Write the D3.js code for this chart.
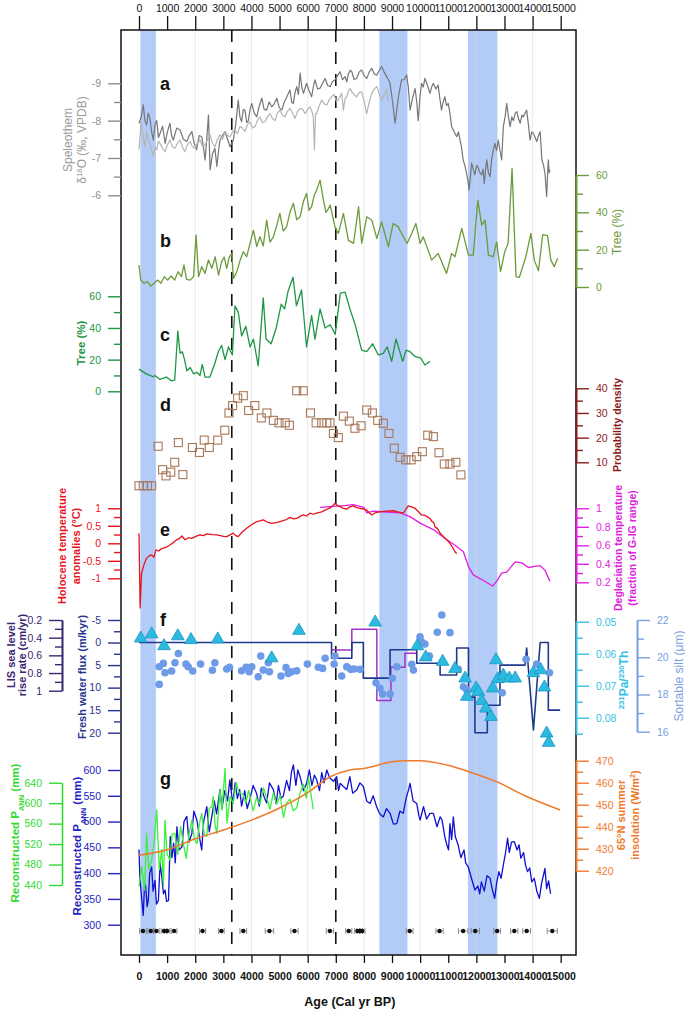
<!DOCTYPE html>
<html>
<head>
<meta charset="utf-8">
<title>Holocene multi-proxy records</title>
<script src="https://cdn.jsdelivr.net/npm/d3@7"></script>
<style>
body{margin:0;background:#fff;}
svg{display:block;font-family:"Liberation Sans",Arial,sans-serif;}
</style>
</head>
<body>
<script>
// ---- data (age in cal yr BP, value) ----
var ageTicks = d3.range(0, 15001, 1000);
var gridAges = [2000, 4000, 6000, 8000, 10000, 12000, 14000];
var bands = [[50, 600], [8550, 9550], [11700, 12750]];
var dashedAges = [3300, 7000];

// a: speleothem d18O
var speleoDark = [[0,-7.93],[80,-8.1],[153,-8.42],[210,-8.0],[270,-7.88],[330,-8.2],[390,-8.06],[450,-7.7],[510,-7.48],[570,-7.9],[630,-8.0],[690,-7.55],[750,-7.66],[840,-7.85],[930,-7.39],[1010,-7.7],[1100,-7.93],[1160,-7.6],[1220,-7.48],[1340,-7.8],[1460,-7.75],[1580,-7.5],[1700,-7.44],[1790,-7.6],[1880,-7.71],[1960,-7.4],[2050,-7.22],[2140,-7.6],[2230,-7.57],[2290,-7.3],[2350,-6.95],[2410,-7.5],[2470,-8.15],[2500,-7.4],[2530,-6.68],[2610,-7.1],[2700,-7.26],[2770,-6.77],[2830,-7.2],[2880,-7.48],[2970,-7.6],[3060,-7.71],[3150,-7.5],[3240,-7.3],[3355,-7.48],[3440,-7.9],[3530,-8.55],[3590,-8.1],[3650,-7.97],[3710,-8.3],[3770,-8.28],[3830,-7.95],[3890,-8.0],[3950,-8.3],[4010,-8.46],[4100,-8.2],[4190,-8.1],[4280,-8.4],[4370,-8.6],[4450,-8.3],[4540,-8.28],[4630,-8.5],[4720,-8.37],[4810,-8.45],[4900,-8.6],[4990,-8.35],[5080,-8.28],[5170,-8.5],[5260,-8.64],[5370,-8.82],[5430,-8.5],[5490,-8.46],[5550,-8.75],[5610,-8.91],[5670,-8.7],[5730,-9.27],[5790,-8.9],[5850,-8.73],[5900,-8.85],[5960,-9.0],[6050,-8.8],[6140,-8.64],[6200,-8.9],[6260,-9.09],[6350,-8.85],[6440,-8.87],[6530,-9.0],[6620,-9.13],[6710,-8.95],[6800,-8.91],[6880,-9.05],[6970,-9.09],[7060,-9.2],[7150,-9.31],[7240,-9.1],[7330,-9.18],[7390,-9.04],[7450,-9.25],[7510,-9.35],[7570,-9.31],[7650,-9.1],[7740,-9.13],[7830,-9.3],[7920,-9.36],[8010,-9.2],[8100,-9.13],[8190,-9.3],[8280,-9.4],[8370,-9.25],[8460,-9.22],[8550,-9.35],[8630,-9.45],[8720,-9.3],[8810,-9.18],[8870,-9.1],[8930,-9.0],[9020,-8.5],[9110,-7.93],[9170,-8.3],[9230,-8.64],[9290,-8.9],[9340,-9.09],[9430,-9.1],[9520,-9.22],[9580,-8.9],[9640,-8.28],[9730,-8.6],[9820,-8.86],[9880,-8.5],[9930,-8.0],[9990,-8.6],[10050,-9.0],[10110,-8.9],[10170,-9.13],[10260,-8.95],[10350,-8.73],[10410,-8.9],[10470,-9.0],[10560,-8.85],[10640,-8.95],[10700,-8.6],[10760,-8.28],[10820,-8.5],[10880,-8.64],[10940,-8.4],[11000,-8.46],[11060,-8.2],[11120,-7.84],[11210,-7.7],[11300,-7.57],[11360,-7.7],[11410,-7.52],[11470,-7.3],[11530,-6.95],[11590,-6.8],[11650,-6.59],[11700,-6.4],[11740,-6.14],[11790,-6.5],[11830,-6.86],[11890,-6.7],[11950,-6.55],[12010,-6.8],[12070,-6.73],[12130,-6.6],[12190,-6.55],[12240,-6.7],[12280,-6.32],[12330,-6.7],[12370,-6.95],[12430,-6.6],[12490,-6.5],[12540,-6.95],[12600,-7.2],[12660,-7.39],[12720,-7.2],[12780,-7.48],[12840,-7.2],[12900,-6.95],[12960,-7.84],[13020,-8.1],[13080,-8.46],[13140,-8.1],[13200,-7.84],[13260,-8.1],[13320,-8.0],[13380,-8.2],[13440,-8.24],[13500,-8.05],[13560,-7.93],[13620,-8.15],[13670,-8.1],[13730,-8.2],[13790,-8.28],[13850,-7.9],[13910,-7.48],[13970,-7.7],[14030,-7.66],[14090,-7.55],[14150,-7.44],[14210,-7.6],[14270,-7.7],[14330,-6.95],[14390,-6.8],[14440,-6.59],[14500,-5.97],[14530,-6.5],[14560,-6.95],[14590,-6.6],[14620,-6.68]];
var speleoLight = [[0,-7.22],[40,-7.6],[70,-7.97],[110,-7.7],[150,-7.57],[210,-7.3],[270,-7.7],[330,-7.5],[390,-7.39],[450,-7.2],[510,-7.04],[570,-7.3],[630,-7.22],[690,-7.45],[750,-7.39],[840,-7.25],[930,-7.17],[1010,-7.35],[1100,-7.48],[1190,-7.3],[1280,-7.26],[1370,-7.4],[1460,-7.48],[1540,-7.3],[1630,-7.17],[1720,-7.35],[1820,-7.44],[1900,-7.3],[1990,-7.26],[2080,-7.4],[2170,-7.48],[2260,-7.3],[2350,-7.35],[2440,-7.5],[2530,-7.62],[2610,-7.4],[2700,-7.3],[2790,-7.5],[2880,-7.62],[2970,-7.5],[3060,-7.71],[3150,-7.6],[3240,-7.57],[3330,-7.7],[3410,-7.75],[3500,-7.65],[3590,-7.84],[3680,-7.8],[3770,-7.71],[3860,-7.9],[3950,-7.97],[4040,-7.8],[4130,-7.84],[4210,-8.0],[4300,-8.1],[4390,-7.95],[4480,-7.97],[4570,-8.1],[4660,-8.19],[4750,-8.05],[4840,-8.0],[4920,-8.2],[5010,-8.28],[5100,-8.15],[5190,-8.1],[5280,-8.25],[5370,-8.33],[5460,-8.2],[5550,-8.06],[5640,-8.25],[5730,-8.33],[5820,-8.3],[5910,-8.19],[6000,-8.3],[6080,-8.37],[6150,-8.25],[6200,-8.1],[6240,-7.22],[6280,-8.19],[6320,-8.19],[6410,-8.4],[6500,-8.55],[6590,-8.45],[6680,-8.42],[6760,-8.55],[6850,-8.64],[6940,-8.7],[7030,-8.5],[7120,-8.6],[7210,-8.73],[7270,-8.28],[7330,-8.6],[7390,-8.64],[7450,-8.8],[7510,-8.86],[7570,-8.77],[7650,-8.7],[7740,-8.64],[7830,-8.75],[7920,-8.77],[8010,-8.5],[8100,-8.19],[8190,-8.5],[8280,-8.73],[8370,-8.85],[8460,-8.91],[8550,-8.7],[8630,-8.55],[8720,-8.7],[8810,-8.82],[8870,-8.5]];

// b: tree pollen (%)
var treeB = [[0,11.8],[60,3.7],[180,2],[300,2.9],[420,0.5],[540,2],[660,3.7],[780,2],[900,5.5],[1020,3.7],[1140,5.9],[1270,3.7],[1390,8.2],[1510,5.5],[1600,11.8],[1690,4.1],[1820,3.7],[1940,5.5],[2030,27.8],[2120,5.5],[2230,10.9],[2350,7.3],[2470,14.5],[2590,10],[2710,16.2],[2830,6.4],[2940,13.6],[3030,16],[3120,10],[3210,16],[3300,18],[3360,4.6],[3480,8.2],[3600,14.5],[3710,18.9],[3830,16.2],[3950,23.4],[4070,30.5],[4190,21.6],[4300,26.9],[4420,22],[4540,35.8],[4660,24],[4780,26.9],[4900,33],[5010,39.4],[5130,30],[5250,32.2],[5370,40],[5490,44.8],[5610,36],[5730,37.6],[5850,46],[5960,50.1],[6050,41],[6140,43],[6230,49],[6320,51.9],[6440,57.2],[6560,46.5],[6650,40],[6740,42],[6800,43.9],[6970,32.2],[7090,28.7],[7270,39.4],[7450,25],[7630,23.4],[7810,43],[7920,23.4],[8100,37.6],[8280,35.8],[8460,26],[8630,34.9],[8870,21.6],[9040,34],[9220,32.2],[9400,26.9],[9540,23.4],[9700,28.7],[9850,34],[10000,23.4],[10110,26.9],[10410,14.4],[10640,18],[10940,7.3],[11120,18],[11240,16.2],[11480,31.4],[11720,17.1],[11890,17.1],[12050,46.5],[12190,33.1],[12310,35.8],[12430,17.1],[12600,16.2],[12720,24.2],[12860,8.2],[13010,18.9],[13130,23.4],[13270,63.6],[13410,5.5],[13530,5.2],[13760,16.2],[13940,28.7],[14060,14.4],[14210,8.7],[14360,28],[14530,27.5],[14650,14.4],[14770,10.9],[14890,15.4]];

// c: tree pollen (%)
var treeC = [[0,14],[260,11],[500,9.2],[560,10],[740,7.6],[980,9],[1150,6.6],[1270,7],[1380,38],[1460,24],[1540,25],[1620,20],[1700,13],[1820,15],[1940,11],[2060,12],[2170,10],[2250,17],[2350,9],[2520,9],[2700,17.7],[2820,25],[2940,29],[3060,20],[3180,28],[3320,23],[3415,54],[3530,50],[3650,35],[3800,41],[3950,28],[4070,33],[4240,16],[4420,59],[4520,33],[4700,30],[4880,40],[5060,55],[5180,52],[5300,63],[5480,72],[5600,54],[5780,64],[5960,28],[6140,48],[6260,33],[6440,52],[6620,40],[6800,42],[6980,36],[7160,62],[7330,62.6],[7510,51.6],[7690,42],[7920,26],[8100,25],[8310,30],[8510,23],[8690,24],[8830,28],[8990,19],[9140,33],[9380,19],[9500,26],[9640,25],[9820,22],[10020,21],[10170,16.6],[10350,19]];

// d: probability density
var probD = [[0,0.5],[150,0.5],[300,0.5],[450,0.5],[680,16.5],[840,7],[960,4.5],[1130,6],[1270,10],[1400,18],[1560,5],[1900,16],[2150,14],[2320,19],[2500,16],[2800,19],[3050,23],[3200,30],[3330,33],[3510,36],[3710,37],[3900,31],[4120,33],[4350,28],[4550,30],[4780,27],[4980,26],[5200,26],[5350,25],[5610,39],[5845,39],[6100,30],[6300,26],[6500,26],[6680,26],[6795,26],[6915,21.7],[7090,20],[7270,28.7],[7480,26.7],[7680,23.8],[7900,24.8],[8100,31.2],[8300,30],[8490,27],[8690,25.8],[8890,21.7],[9080,15.7],[9290,12],[9490,11],[9680,11],[9880,12.3],[10080,14.3],[10270,21],[10470,20.4],[10670,13.9],[10860,9.3],[11060,9.3],[11270,10],[11450,4.9]];

// e: temperature
var holoTemp = [[0,0.29],[40,-1.85],[90,-0.86],[180,-0.6],[270,-0.43],[360,-0.36],[450,-0.33],[530,-0.4],[600,-0.19],[700,-0.22],[780,-0.16],[865,-0.14],[1000,-0.1],[1100,-0.05],[1220,0.02],[1340,0.1],[1440,0.14],[1520,0.21],[1640,0.1],[1760,0.16],[1875,0.14],[2020,0.2],[2170,0.24],[2290,0.22],[2410,0.27],[2600,0.25],[2770,0.24],[2900,0.22],[3000,0.2],[3120,0.19],[3240,0.24],[3355,0.29],[3440,0.22],[3530,0.19],[3680,0.33],[3830,0.43],[4000,0.53],[4190,0.62],[4300,0.64],[4420,0.67],[4580,0.6],[4720,0.57],[4920,0.6],[5130,0.65],[5250,0.68],[5370,0.74],[5490,0.7],[5610,0.71],[5730,0.77],[5845,0.81],[5960,0.78],[6080,0.86],[6200,0.83],[6320,0.86],[6500,0.9],[6680,0.97],[6820,1.02],[6970,1.14],[7060,1.08],[7150,1.05],[7270,1.0],[7390,0.98],[7500,1.04],[7620,1.07],[7740,1.02],[7860,1.0],[7980,0.98],[8100,0.95],[8200,0.86],[8280,0.81],[8420,0.88],[8570,0.9],[8800,0.92],[9050,0.93],[9200,0.9],[9400,0.86],[9500,0.98],[9580,1.07],[9700,1.04],[9820,1.0],[9940,0.9],[10050,0.81],[10170,0.8],[10290,0.74],[10360,0.7],[10420,0.62],[10480,0.6],[10530,0.47],[10620,0.42],[10700,0.3],[10830,0.19],[10950,0.1],[11060,0.0],[11160,-0.12],[11240,-0.24],[11300,-0.29]];
var degTemp = [[6440,1.01],[6910,1.02],[7300,1.03],[7620,1.04],[8000,1.01],[8100,0.95],[8340,0.97],[8810,0.96],[9290,0.95],[9640,0.91],[10000,0.84],[10470,0.77],[10950,0.66],[11240,0.6],[11540,0.53],[11720,0.37],[11890,0.28],[12250,0.22],[12580,0.16],[12720,0.21],[12900,0.3],[13080,0.31],[13380,0.42],[13620,0.41],[13850,0.36],[14030,0.37],[14270,0.38],[14440,0.33],[14620,0.21]];

// f: fresh water flux (step line), LIS rise rate, 231Pa/230Th, sortable silt
var freshWater = [[0,0],[6850,0],[6850,3.5],[7570,3.5],[7570,0],[7980,0],[7980,7.9],[8930,7.9],[8930,1.6],[9880,1.6],[9880,4.6],[10710,4.6],[10710,7.2],[11300,7.2],[11300,1.2],[11720,1.2],[11720,12.1],[11950,12.1],[11950,20],[12390,20],[12390,13.9],[12840,13.9],[12840,5],[13730,5],[13790,1.2],[14030,19.4],[14270,0],[14560,0],[14560,15],[14980,15]];
var lisRate = [[6850,0.54],[7570,0.54],[7570,0.305],[8460,0.305],[8460,1.11],[8960,1.11],[8960,0.735],[9460,0.735],[9460,0.577],[9880,0.577]];
var paTh = [[60,0.0552],[450,0.0539],[890,0.0576],[1380,0.0545],[1850,0.0557],[2800,0.0555],[4720,0.0614],[5690,0.0528],[8400,0.0502],[9900,0.0576],[10200,0.0611],[10800,0.0625],[11240,0.0647],[11600,0.0677],[11660,0.0734],[11990,0.0708],[12070,0.0719],[12190,0.0747],[12340,0.0771],[12520,0.0797],[12580,0.0708],[12700,0.062],[12760,0.0679],[12960,0.0668],[13170,0.0677],[13380,0.0677],[14030,0.066],[14290,0.0651],[14420,0.0705],[14500,0.0849],[14570,0.0878]];
var silt = [[720,18.54],[720,19.49],[865,19.67],[925,19.17],[1160,19.26],[1280,19.7],[1400,20.2],[1670,19.63],[1750,19.49],[1910,19.26],[2190,19.63],[2610,19.3],[2700,19.7],[3120,19.37],[3220,19.46],[3650,19.27],[3810,19.46],[3920,19.22],[4010,19.49],[4240,18.95],[4330,20.06],[4420,19.31],[4600,19.7],[4640,19.22],[5050,18.99],[5230,19.44],[5310,19.13],[5430,19.22],[5610,19.27],[5990,19.63],[6380,19.46],[6530,19.4],[6620,19.94],[6940,19.63],[6970,20.06],[7210,18.99],[7390,19.49],[7530,19.35],[7650,19.37],[7860,19.35],[8430,18.63],[8570,18.33],[8660,18.02],[8930,18.02],[9010,18.87],[9170,19.49],[9700,19.62],[9760,19.31],[9995,21.1],[10050,20.83],[10170,20.71],[10330,20.06],[10610,21.34],[10770,22.27],[11060,21.32],[11360,19.35],[11540,18.41],[11660,18.24],[12920,18.09],[13770,19.89],[14150,19.63],[14600,19.17]];

// g: precipitation (two reconstructions), insolation, age control
var precipBlue = [[0,446],[30,393],[90,354],[150,318],[200,380],[240,373],[290,335],[330,347],[380,400],[450,412],[500,365],[570,386],[620,340],[690,347],[750,420],[810,393],[870,360],[930,367],[980,345],[1050,347],[1110,471],[1170,430],[1230,458],[1290,420],[1350,490],[1420,445],[1530,451],[1600,500],[1700,510],[1780,460],[1880,477],[1950,520],[2060,503],[2150,470],[2230,445],[2300,500],[2410,529],[2500,480],[2590,510],[2680,540],[2760,515],[2880,562],[2950,525],[3050,560],[3150,540],[3230,581],[3300,550],[3340,536],[3420,575],[3500,545],[3580,562],[3650,530],[3760,560],[3850,525],[3940,542],[4060,570],[4180,555],[4280,530],[4350,565],[4450,548],[4540,536],[4640,575],[4780,562],[4880,535],[4960,570],[5050,545],[5130,549],[5250,580],[5350,560],[5420,595],[5490,610],[5580,570],[5650,600],[5730,587],[5850,560],[5960,574],[6060,600],[6150,570],[6240,590],[6320,581],[6420,560],[6500,595],[6580,575],[6680,600],[6780,585],[6920,578],[7030,587],[7100,560],[7160,574],[7270,568],[7390,562],[7500,587],[7600,555],[7740,561],[7860,575],[7980,568],[8100,540],[8220,535],[8330,550],[8450,529],[8560,515],[8690,509],[8800,525],[8930,516],[9050,495],[9170,496],[9280,520],[9400,516],[9500,545],[9580,560],[9640,574],[9750,540],[9880,535],[9960,510],[10000,503],[10120,529],[10230,505],[10350,516],[10470,516],[10600,490],[10710,509],[10780,503],[10880,470],[10950,455],[11010,445],[11060,496],[11120,465],[11180,509],[11250,471],[11350,455],[11450,430],[11560,445],[11620,420],[11710,412],[11800,395],[11880,380],[11950,367],[12050,375],[12120,360],[12180,383],[12280,365],[12380,395],[12490,390],[12560,370],[12650,351],[12720,380],[12800,403],[12880,390],[12960,416],[13040,440],[13110,468],[13170,440],[13250,460],[13350,461],[13450,445],[13520,455],[13580,429],[13680,440],[13750,415],[13820,403],[13900,410],[13970,383],[14060,390],[14150,365],[14240,351],[14320,380],[14440,409],[14500,370],[14570,385],[14640,360]];
var precipGreen = [[0,437],[100,476],[200,430],[270,541],[350,470],[450,489],[530,520],[630,587],[720,470],[810,509],[870,440],[925,567],[1000,500],[1100,489],[1180,540],[1280,541],[1380,500],[1480,554],[1580,520],[1680,492],[1780,540],[1880,567],[1970,530],[2060,521],[2150,560],[2230,580],[2320,540],[2410,535],[2500,590],[2590,593],[2640,613],[2700,560],[2770,541],[2880,626],[2950,587],[3060,668],[3130,561],[3240,613],[3350,600],[3460,640],[3560,620],[3700,617],[3800,600],[3900,625],[4060,585],[4180,610],[4300,598],[4420,630],[4540,611],[4660,588],[4780,620],[4900,598],[5020,615],[5140,572],[5250,600],[5370,608],[5490,585],[5610,591],[5730,620],[5850,637],[5950,610],[6030,650],[6200,588]];
var insolation = [[0,427],[1000,429.5],[2000,434.5],[3000,438.5],[4000,443],[5000,448.5],[6000,455.5],[6800,462.7],[7500,465.8],[8000,466.5],[9000,469.5],[9500,470],[10000,470],[10950,468],[11890,464.3],[12720,460.5],[13670,454.4],[14980,447.6]];
var ageControl = [140,420,620,890,1000,1250,2260,2930,3710,4640,5530,6790,7460,7770,7850,7940,9630,10690,11530,11960,12740,13350,13790,14700];
var ageError = [120,100,100,100,100,100,110,100,120,150,130,130,110,100,100,100,120,130,170,150,120,130,140,180];

// ---- layout ----
var W = 685, H = 1009;
var frameTop = 30, frameBot = 955, frameL = 121, frameR = 576;
var FONT = '"Liberation Sans", Arial, sans-serif';

var svg = d3.select("body").append("svg").attr("width", W).attr("height", H);
svg.append("rect").attr("width", W).attr("height", H).attr("fill", "#fff");

var x = d3.scaleLinear().domain([0, 15000]).range([139, 560.7]);

var yA = d3.scaleLinear().domain([-9, -6]).range([83.3, 195.3]);
var yB = d3.scaleLinear().domain([0, 60]).range([287, 175]);
var yC = d3.scaleLinear().domain([0, 60]).range([391.3, 296.3]);
var yD = d3.scaleLinear().domain([10, 40]).range([462.3, 388.3]);
var yE = d3.scaleLinear().domain([-1, 1]).range([578.3, 508.3]);
var yE2 = d3.scaleLinear().domain([0.2, 1]).range([582.3, 508.3]);
var yF = d3.scaleLinear().domain([-5, 20]).range([620, 732.7]);
var yLis = d3.scaleLinear().domain([0.2, 1]).range([620, 690.7]);
var yPa = d3.scaleLinear().domain([0.05, 0.085]).range([621.7, 733.7]);
var ySilt = d3.scaleLinear().domain([16, 22]).range([731.7, 620]);
var yG = d3.scaleLinear().domain([300, 600]).range([924.7, 770]);
var yG2 = d3.scaleLinear().domain([440, 640]).range([885, 782.7]);
var yIns = d3.scaleLinear().domain([420, 470]).range([870.7, 760.7]);

// background bands and grid
svg.append("g").selectAll("rect").data(bands).enter().append("rect")
  .attr("x", function(d){ return x(d[0]); })
  .attr("width", function(d){ return x(d[1]) - x(d[0]); })
  .attr("y", frameTop).attr("height", frameBot - frameTop)
  .attr("fill", "#b3cbf7");

svg.append("g").selectAll("line").data(gridAges).enter().append("line")
  .attr("x1", function(d){ return x(d); }).attr("x2", function(d){ return x(d); })
  .attr("y1", frameTop).attr("y2", frameBot)
  .attr("stroke", "#dcdcdc").attr("stroke-opacity", 0.8).attr("stroke-width", 0.8);

svg.append("g").selectAll("line").data(dashedAges).enter().append("line")
  .attr("x1", function(d){ return x(d); }).attr("x2", function(d){ return x(d); })
  .attr("y1", frameTop).attr("y2", frameBot)
  .attr("stroke", "#111").attr("stroke-width", 1.6).attr("stroke-dasharray", "12,10");

// frame
svg.append("rect").attr("x", frameL).attr("y", frameTop)
  .attr("width", frameR - frameL).attr("height", frameBot - frameTop)
  .attr("fill", "none").attr("stroke", "#111").attr("stroke-width", 1.5);

// age axes
var topAx = svg.append("g").attr("transform", "translate(0," + frameTop + ")")
  .call(d3.axisTop(x).tickValues(ageTicks).tickSize(14).tickSizeOuter(0).tickPadding(4).tickFormat(d3.format("d")));
topAx.select(".domain").remove();
topAx.selectAll("line").attr("stroke", "#111").attr("stroke-width", 1.3);
topAx.selectAll("text").attr("fill", "#111").attr("font-size", 10.5).attr("font-family", FONT);

var botAx = svg.append("g").attr("transform", "translate(0," + frameBot + ")")
  .call(d3.axisBottom(x).tickValues(ageTicks).tickSize(8).tickSizeOuter(0).tickPadding(10).tickFormat(d3.format("d")));
botAx.select(".domain").remove();
botAx.selectAll("line").attr("stroke", "#111").attr("stroke-width", 1.3);
botAx.selectAll("text").attr("fill", "#111").attr("font-size", 10.5).attr("font-weight", "bold").attr("font-family", FONT);

svg.append("text").attr("x", (x(0) + x(15000)) / 2).attr("y", 1006)
  .attr("text-anchor", "middle").attr("font-size", 12.5).attr("font-weight", "bold")
  .attr("font-family", FONT).attr("fill", "#111").text("Age (Cal yr BP)");

// generic value axis
function valAxis(scale, side, xpos, majors, minors, color, showLine) {
  var g = svg.append("g").attr("transform", "translate(" + xpos + ",0)");
  var mk = side === "left" ? d3.axisLeft : d3.axisRight;
  if (minors) {
    g.append("g").call(mk(scale).tickValues(minors).tickSize(7).tickSizeOuter(0).tickFormat(""));
  }
  g.append("g").call(mk(scale).tickValues(majors).tickSize(13).tickSizeOuter(0).tickPadding(7)
    .tickFormat(function(d){ return String(+d.toFixed(4)); }));
  g.selectAll("line").attr("stroke", color).attr("stroke-width", 1.4);
  g.selectAll("path.domain").attr("stroke", showLine ? color : "none").attr("stroke-width", 1.6);
  g.selectAll("text").attr("fill", color).attr("font-size", 10.5).attr("font-family", FONT);
  return g;
}

// vertical (rotated) title; cx is the baseline of the first line, lines step to the right
function vTitle(cx, cy, lines, color, bold, size, step) {
  step = step || size + 2;
  lines.forEach(function(parts, i) {
    var t = svg.append("text")
      .attr("transform", "translate(" + (cx + i * step) + "," + cy + ") rotate(-90)")
      .attr("text-anchor", "middle").attr("font-family", FONT)
      .attr("font-size", size).attr("font-weight", bold ? "bold" : "normal")
      .attr("fill", color);
    parts.forEach(function(p) {
      var s = t.append("tspan").text(p[0]);
      if (p[1] === "sup") s.attr("baseline-shift", "super").attr("font-size", size * 0.65);
      if (p[1] === "sub") s.attr("baseline-shift", "sub").attr("font-size", size * 0.65);
    });
  });
}

function panelLetter(lbl, ly) {
  svg.append("text").attr("x", 160).attr("y", ly + 6).attr("font-family", FONT)
    .attr("font-size", 18).attr("font-weight", "bold").attr("fill", "#111").text(lbl);
}

function drawLine(data, yScale, color, width, curve) {
  svg.append("path").datum(data)
    .attr("fill", "none").attr("stroke", color).attr("stroke-width", width)
    .attr("stroke-linejoin", "round")
    .attr("d", d3.line().x(function(d){ return x(d[0]); }).y(function(d){ return yScale(d[1]); })
      .curve(curve || d3.curveLinear));
}

// ---- panel a ----
var cA = "#8e8e8e";
valAxis(yA, "left", frameL, [-9, -8, -7, -6], [-8.5, -7.5, -6.5], cA, false);
vTitle(72, 140, [[["Speleothem"]], [["δ"], ["18", "sup"], ["O (‰, VPDB)"]]], "#9a9a9a", false, 12, 14);
drawLine(speleoDark, yA, "#767676", 1.2);
drawLine(speleoLight, yA, "#b4b4b4", 1.2);
panelLetter("a", 84);

// ---- panel b ----
var cB = "#6b9b3a";
valAxis(yB, "right", frameR, [0, 20, 40, 60], [10, 30, 50], cB, true);
vTitle(621, 232, [[["Tree (%)"]]], cB, false, 12);
drawLine(treeB, yB, cB, 1.3);
panelLetter("b", 241);

// ---- panel c ----
var cC = "#1e9645";
valAxis(yC, "left", frameL, [0, 20, 40, 60], [10, 30, 50], cC, false);
vTitle(85, 343, [[["Tree (%)"]]], cC, true, 11.5);
drawLine(treeC, yC, cC, 1.3);
panelLetter("c", 335);

// ---- panel d ----
var cD = "#8b1c1c";
valAxis(yD, "right", frameR, [10, 20, 30, 40], [15, 25, 35], cD, true);
vTitle(621, 425, [[["Probability density"]]], cD, true, 10.5);
svg.append("g").selectAll("rect").data(probD).enter().append("rect")
  .attr("x", function(d){ return x(d[0]) - 4; }).attr("y", function(d){ return yD(d[1]) - 4; })
  .attr("width", 8).attr("height", 8)
  .attr("fill", "none").attr("stroke", "#a8785a").attr("stroke-width", 1.1);
panelLetter("d", 405);

// ---- panel e ----
var cE = "#e8141c", cE2 = "#e01ee0";
valAxis(yE, "left", frameL, [-1, -0.5, 0, 0.5, 1], [-0.75, -0.25, 0.25, 0.75], cE, false);
valAxis(yE2, "right", frameR, [0.2, 0.4, 0.6, 0.8, 1], [0.3, 0.5, 0.7, 0.9], cE2, true);
vTitle(66, 546, [[["Holocene temperature"]], [["anomalies (°C)"]]], cE, true, 11, 14);
vTitle(622, 548, [[["Deglaciation temperature"]], [["(fraction of G-IG range)"]]], cE2, true, 10.5, 14);
drawLine(degTemp, yE2, cE2, 1.3);
drawLine(holoTemp, yE, cE, 1.3);
panelLetter("e", 530);

// ---- panel f ----
var cF = "#26348e", cLis = "#3b2572", cPa = "#35c2e2", cSilt = "#7aa0e2";
valAxis(yF, "left", frameL, [-5, 0, 5, 10, 15, 20], [-2.5, 2.5, 7.5, 12.5, 17.5], cF, false);
valAxis(yLis, "left", 62, [0.2, 0.4, 0.6, 0.8, 1], [0.3, 0.5, 0.7, 0.9], cLis, true);
valAxis(yPa, "right", frameR, [0.05, 0.06, 0.07, 0.08], [0.055, 0.065, 0.075, 0.085], cPa, true);
valAxis(ySilt, "right", 637, [16, 18, 20, 22], [17, 19, 21], cSilt, true);
vTitle(86, 677, [[["Fresh water flux (m/kyr)"]]], cF, true, 11);
vTitle(15, 655, [[["LIS sea level"]], [["rise rate (cm/yr)"]]], cLis, true, 11, 11);
vTitle(628, 680, [[["231", "sup"], ["Pa/"], ["230", "sup"], ["Th"]]], cPa, true, 12);
vTitle(683, 676, [[["Sortable silt (μm)"]]], cSilt, false, 12);
drawLine(lisRate, yLis, "#a431c8", 1.5);
drawLine(freshWater, yF, "#1f3a8c", 1.6);
svg.append("g").selectAll("circle").data(silt).enter().append("circle")
  .attr("cx", function(d){ return x(d[0]); }).attr("cy", function(d){ return ySilt(d[1]); })
  .attr("r", 3.8).attr("fill", "#6e9be8");
svg.append("g").selectAll("path").data(paTh).enter().append("path")
  .attr("d", d3.symbol().type(d3.symbolTriangle).size(70))
  .attr("transform", function(d){ return "translate(" + x(d[0]) + "," + yPa(d[1]) + ")"; })
  .attr("fill", "#2bbbe2").attr("stroke", "#1a95bf").attr("stroke-width", 0.8);
panelLetter("f", 620);

// ---- panel g ----
var cG = "#2323c0", cG2 = "#33d933", cIns = "#ee7a2a";
valAxis(yG, "left", frameL, [300, 350, 400, 450, 500, 550, 600], null, cG, false);
valAxis(yG2, "left", 62, [440, 480, 520, 560, 600, 640], null, cG2, true);
valAxis(yIns, "right", frameR, [420, 430, 440, 450, 460, 470], [425, 435, 445, 455, 465], cIns, true);
vTitle(81, 846, [[["Reconstructed P"], ["ANN", "sub"], [" (mm)"]]], cG, true, 11.5);
vTitle(19, 833, [[["Reconstructed P"], ["ANN", "sub"], [" (mm)"]]], cG2, true, 11.5);
vTitle(625, 815, [[["65°N summer"]], [["insolation (W/m"], ["2", "sup"], [")"]]], cIns, true, 11, 14);
drawLine(precipBlue, yG, "#1010d0", 1.3);
drawLine(precipGreen, yG2, "#3cf03c", 1.3);
drawLine(insolation, yIns, cIns, 1.5, d3.curveMonotoneX);
panelLetter("g", 779);

// age control points
var yCtl = 931;
var ctl = svg.append("g");
ctl.selectAll("line.err").data(ageControl).enter().append("line")
  .attr("x1", function(d, i){ return x(d - ageError[i]); })
  .attr("x2", function(d, i){ return x(d + ageError[i]); })
  .attr("y1", yCtl).attr("y2", yCtl).attr("stroke", "#777").attr("stroke-width", 0.8);
ctl.selectAll("line.capL").data(ageControl).enter().append("line")
  .attr("x1", function(d, i){ return x(d - ageError[i]); })
  .attr("x2", function(d, i){ return x(d - ageError[i]); })
  .attr("y1", yCtl - 3).attr("y2", yCtl + 3).attr("stroke", "#777").attr("stroke-width", 0.8);
ctl.selectAll("line.capR").data(ageControl).enter().append("line")
  .attr("x1", function(d, i){ return x(d + ageError[i]); })
  .attr("x2", function(d, i){ return x(d + ageError[i]); })
  .attr("y1", yCtl - 3).attr("y2", yCtl + 3).attr("stroke", "#777").attr("stroke-width", 0.8);
ctl.selectAll("circle").data(ageControl).enter().append("circle")
  .attr("cx", function(d){ return x(d); }).attr("cy", yCtl).attr("r", 2.2).attr("fill", "#111");
</script>
</body>
</html>
